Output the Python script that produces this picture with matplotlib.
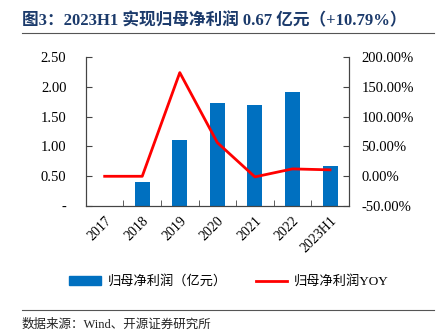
import numpy as np
import matplotlib.pyplot as plt
from matplotlib.lines import Line2D
from matplotlib.patches import Patch

# 数据
categories = ['2017', '2018', '2019', '2020', '2021', '2022', '2023H1']
profit = [0.0, 0.40, 1.11, 1.73, 1.70, 1.91, 0.67]       # 归母净利润（亿元）
yoy = [0.0, 0.0, 174.0, 56.5, -1.0, 12.4, 10.79]          # 归母净利润YOY（%）
left_ticks = [0, 0.5, 1.0, 1.5, 2.0, 2.5]
right_ticks = [-50, 0, 50, 100, 150, 200]

serif = ['Liberation Serif', 'Noto Sans CJK SC']
plt.rcParams['font.family'] = serif

fig = plt.figure(figsize=(4.36, 3.34), dpi=100)
ax = fig.add_axes([0.197, 0.383, 0.603, 0.446])
ax2 = ax.twinx()

x = np.arange(len(categories))
ax.bar(x, profit, width=0.4, color='#0070C0', zorder=2)
ax2.plot(x, yoy, color='#FF0000', lw=2, zorder=3)

ax.set_xlim(-0.5, len(categories) - 0.5)
ax.set_ylim(0, 2.5)
ax2.set_ylim(-50, 200)

ax.set_yticks(left_ticks)
ax.set_yticklabels(['-'] + [f'{v:.2f}' for v in left_ticks[1:]])
ax2.set_yticks(right_ticks)
ax2.set_yticklabels([f'{v:.2f}%' for v in right_ticks])

ax.set_xticks(x)
ax.set_xticklabels(categories, rotation=45, ha='right', rotation_mode='anchor')
ax.set_xticks(np.arange(-0.5, len(categories)), minor=True)
ax.tick_params(axis='x', which='major', length=0, labelsize=10, pad=6)
ax.tick_params(axis='x', which='minor', direction='in', length=4, color='#444444')
ax.tick_params(axis='y', direction='in', length=4, labelsize=10.5, color='#444444', pad=14)
ax2.tick_params(axis='y', direction='in', length=4, labelsize=10.5, color='#444444', pad=9)

for a in (ax, ax2):
    a.spines['top'].set_visible(False)
    for s in ('left', 'right', 'bottom'):
        a.spines[s].set_color('#444444')
ax.set_facecolor('none')
ax2.set_zorder(ax.get_zorder() + 1)

# 标题与横线
fig.text(0.05, 0.925, '图3：2023H1 实现归母净利润 0.67 亿元（+10.79%）',
         fontsize=12, fontweight='bold', color='#1B3A6B')
fig.add_artist(Line2D([0.05, 0.995], [0.90, 0.90], color='#555555', lw=0.8))
fig.add_artist(Line2D([0.05, 0.995], [0.072, 0.072], color='#555555', lw=0.8))
fig.text(0.05, 0.018, '数据来源：Wind、开源证券研究所', fontsize=9, color='#222222')

# 图例
handles = [Patch(color='#0070C0'), Line2D([0], [0], color='#FF0000', lw=2)]
labels = ['归母净利润（亿元）', '归母净利润YOY']
fig.legend(handles, labels, loc='center', bbox_to_anchor=(0.525, 0.157), ncol=2,
           frameon=False, prop={'size': 9.5}, handlelength=2.4, handleheight=0.6,
           columnspacing=2.2, handletextpad=0.5)

fig.savefig('out.png', dpi=100)
